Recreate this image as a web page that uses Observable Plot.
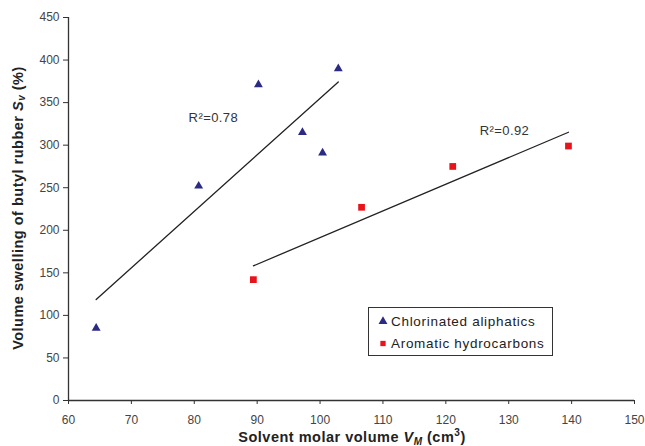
<!DOCTYPE html>
<html>
<head>
<meta charset="utf-8">
<script src="https://cdn.jsdelivr.net/npm/d3@7"></script>
<script src="https://cdn.jsdelivr.net/npm/@observablehq/plot@0.6"></script>
<style>
  body { margin: 0; background: white; }
</style>
</head>
<body>
<div id="chart"></div>
<script>
// Data
const chlorX = [64.4, 80.7, 90.2, 97.2, 100.4, 102.9];
const chlorY = [85, 252, 371, 315, 291, 390];
const aromX = [89.4, 106.6, 121.1, 139.5];
const aromY = [142, 227, 275, 299];
const seriesNames = ["Chlorinated aliphatics", "Aromatic hydrocarbons"];
const seriesColors = ["#2b2a85", "#e8141b"];
const xTicks = [60, 70, 80, 90, 100, 110, 120, 130, 140, 150];
const yTicks = [0, 50, 100, 150, 200, 250, 300, 350, 400, 450];
const r2Labels = ["R²=0.78", "R²=0.92"];
const r2X = [79.1, 125.4];
const r2Y = [332, 317];

const chlor = chlorX.map((x, i) => ({x, y: chlorY[i]}));
const arom = aromX.map((x, i) => ({x, y: aromY[i]}));
const notes = r2Labels.map((t, i) => ({x: r2X[i], y: r2Y[i], t}));

const font = "'Liberation Sans', Arial, Helvetica, sans-serif";

const plot = Plot.plot({
  width: 645,
  height: 446,
  marginLeft: 68,
  marginRight: 11,
  marginTop: 17,
  marginBottom: 46,
  style: {fontFamily: font, fontSize: "12px", color: "#444", background: "white"},
  x: {domain: [60, 150]},
  y: {domain: [0, 450]},
  marks: [
    Plot.axisX({ticks: xTicks, tickSize: 4, tickPadding: 11, label: null, fontSize: 12, stroke: "#333", fill: "#444"}),
    Plot.axisY({ticks: yTicks, tickSize: 5, tickPadding: 4, label: null, fontSize: 12, stroke: "#333", fill: "#444"}),
    Plot.ruleY([0], {stroke: "#333", strokeWidth: 1.3}),
    Plot.ruleX([60], {stroke: "#333", strokeWidth: 1.3}),
    Plot.linearRegressionY(chlor, {x: "x", y: "y", ci: 0, stroke: "#222", strokeWidth: 1.3}),
    Plot.linearRegressionY(arom, {x: "x", y: "y", ci: 0, stroke: "#222", strokeWidth: 1.3}),
    Plot.dot(chlor, {x: "x", y: "y", symbol: "triangle", r: 3.3, fill: seriesColors[0], stroke: "none"}),
    Plot.dot(arom, {x: "x", y: "y", symbol: "square", r: 3.8, fill: seriesColors[1], stroke: "none"}),
    Plot.text(notes, {x: "x", y: "y", text: "t", textAnchor: "start", fontSize: 13, fill: "#333"})
  ]
});

document.getElementById("chart").appendChild(plot);

const svg = d3.select(plot);
svg.selectAll("text").filter(function () { return this.textContent.startsWith("R²"); })
  .attr("letter-spacing", 0.4);

// Y axis title
const yl = svg.append("text")
  .attr("transform", "translate(19,208) rotate(-90)")
  .attr("text-anchor", "middle")
  .attr("dominant-baseline", "middle")
  .attr("font-family", font)
  .attr("font-weight", "bold")
  .attr("font-size", 14.5)
  .attr("letter-spacing", 0.5)
  .attr("fill", "#222");
yl.append("tspan").text("Volume swelling of butyl rubber ");
yl.append("tspan").attr("font-style", "italic").text("S");
yl.append("tspan").attr("font-style", "italic").attr("font-size", 10).attr("dy", 3).text("v");
yl.append("tspan").attr("dy", -3).text(" (%)");

// X axis title
const xl = svg.append("text")
  .attr("x", 352)
  .attr("y", 442)
  .attr("text-anchor", "middle")
  .attr("font-family", font)
  .attr("font-weight", "bold")
  .attr("font-size", 14.5)
  .attr("letter-spacing", 0.5)
  .attr("fill", "#222");
xl.append("tspan").text("Solvent molar volume ");
xl.append("tspan").attr("font-style", "italic").text("V");
xl.append("tspan").attr("font-style", "italic").attr("font-size", 10).attr("dy", 3).text("M");
xl.append("tspan").attr("dy", -3).text(" (cm");
xl.append("tspan").attr("font-size", 10).attr("dy", -6).text("3");
xl.append("tspan").attr("dy", 6).text(")");

// Legend
const lg = svg.append("g").attr("font-family", font).attr("font-size", 13.5).attr("text-anchor", "start");
lg.append("rect").attr("x", 368.5).attr("y", 307.5).attr("width", 184).attr("height", 48)
  .attr("fill", "white").attr("stroke", "#333").attr("stroke-width", 1);
const symbols = [d3.symbolTriangle, d3.symbolSquare];
const sizes = [Math.PI * 3.3 * 3.3, Math.PI * 3.0 * 3.0];
seriesNames.forEach((name, i) => {
  const cy = 321.5 + i * 22;
  lg.append("path")
    .attr("d", d3.symbol(symbols[i], sizes[i])())
    .attr("transform", `translate(383,${cy})`)
    .attr("fill", seriesColors[i]);
  lg.append("text").attr("x", 391).attr("y", cy).attr("dy", "0.35em")
    .attr("text-anchor", "start").attr("letter-spacing", 0.7).attr("fill", "#222").text(name);
});
</script>
</body>
</html>
